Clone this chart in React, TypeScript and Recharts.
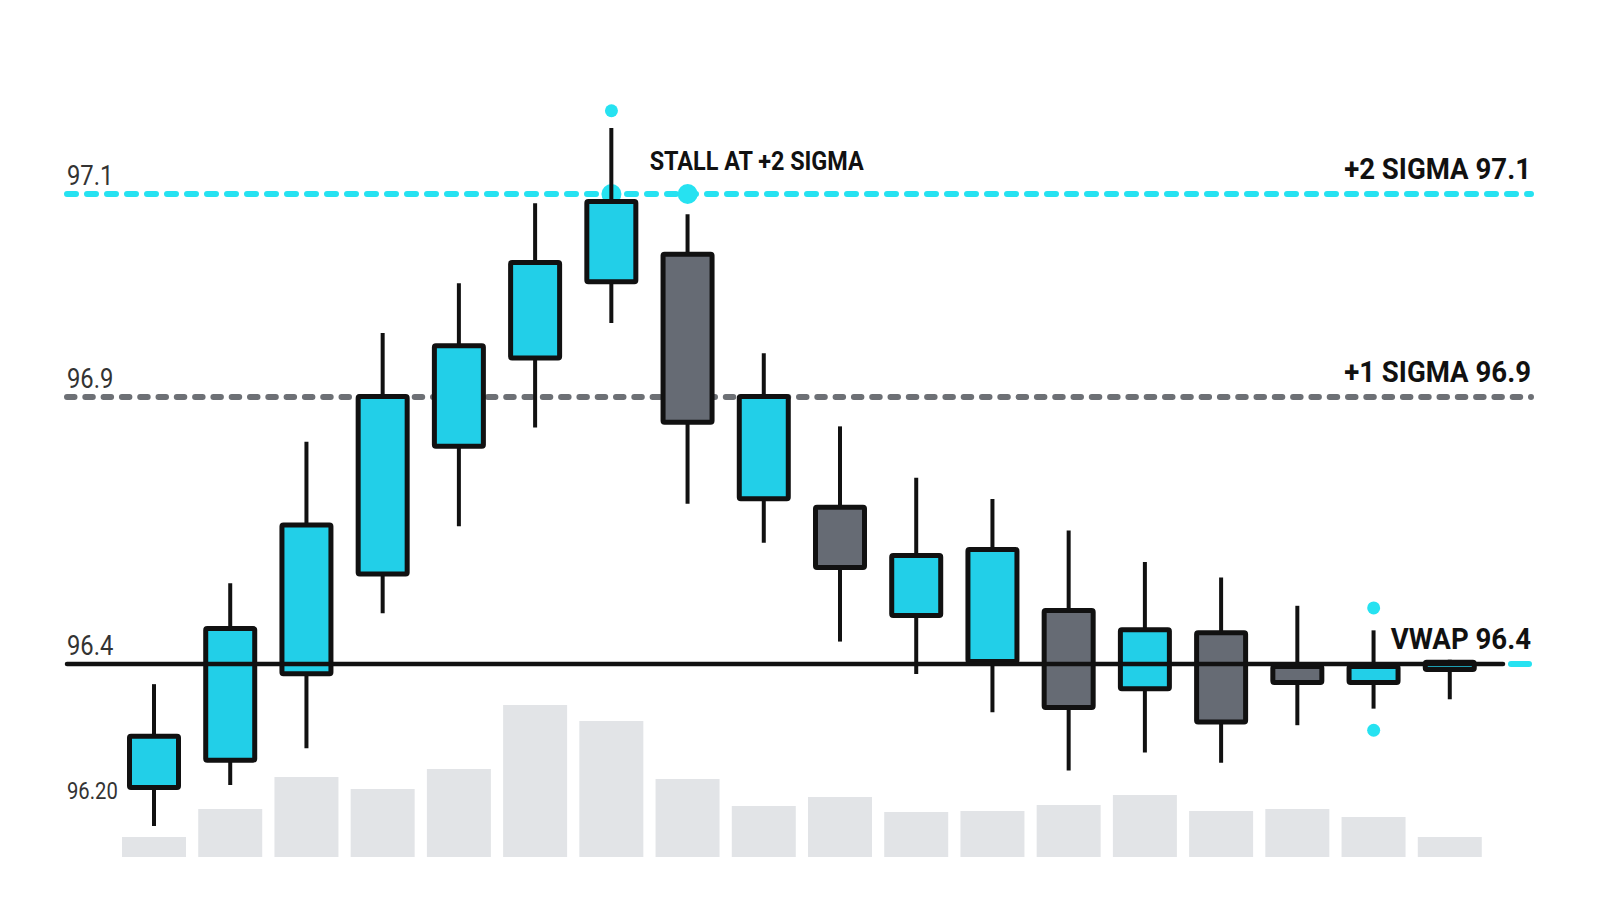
import React from "react";
import {
    ComposedChart,
    Bar,
    XAxis,
    YAxis,
    ReferenceLine,
    ReferenceDot,
} from "recharts";

// one candle per slot
const slots = ["1", "2", "3", "4", "5", "6", "7", "8", "9", "10", "11", "12", "13", "14", "15", "16", "17", "18"];
const opens = [96.225, 96.263, 96.383, 96.564, 96.803, 96.936, 97.011, 97.043, 96.705, 96.698, 96.486, 96.4, 96.505, 96.362, 96.463, 96.4, 96.371, 96.389];
const highs = [96.372, 96.551, 96.816, 96.963, 97.012, 97.091, 97.165, 97.08, 96.943, 96.845, 96.749, 96.709, 96.65, 96.591, 96.562, 96.509, 96.463, 96.408];
const lows = [96.175, 96.232, 96.283, 96.495, 96.658, 96.843, 96.973, 96.7, 96.627, 96.442, 96.386, 96.333, 96.252, 96.277, 96.263, 96.315, 96.338, 96.351];
const closes = [96.303, 96.471, 96.665, 96.903, 96.953, 97.035, 97.095, 96.848, 96.903, 96.576, 96.608, 96.619, 96.336, 96.469, 96.316, 96.371, 96.4, 96.408];
const volumes = [10, 24, 40, 34, 44, 76, 68, 39, 25.5, 30, 22.5, 23, 26, 31, 23, 24, 20, 10];

// price levels
const tickPrices = [96.2, 96.4, 96.9, 97.1];
const tickLabels = ["96.20", "96.4", "96.9", "97.1"];
const vwap = 96.4;
const sigma1 = 96.9;
const sigma2 = 97.1;

// markers
const touchSlots = ["7", "8"];
const edgeSlots = ["7", "17", "17"];
const edgePrices = [97.182, 96.505, 96.308];

// the price axis is not linear: each band between levels has its own spacing
const axisKnots = [0, 144, 411, 614];
const toAxis = (p: number) => {
    const k = tickPrices;
    let i = 0;
    if (p > k[1]) i = 1;
    if (p > k[2]) i = 2;
    return axisKnots[i] + ((p - k[i]) / (k[i + 1] - k[i])) * (axisKnots[i + 1] - axisKnots[i]);
};

const rows = slots.map((slot, i) => ({
    slot,
    open: opens[i],
    high: highs[i],
    low: lows[i],
    close: closes[i],
    volume: volumes[i],
    openU: toAxis(opens[i]),
    highU: toAxis(highs[i]),
    lowU: toAxis(lows[i]),
    closeU: toAxis(closes[i]),
}));

const INK = "#111111";
const UP = "#22cfe8";
const DOWN = "#666b74";
const CYAN = "#26e2f1";
const GREY_LINE = "#6d7075";
const VOL = "#e2e4e7";
const FONT = "Roboto, 'Noto Sans', sans-serif";

// fake a condensed face by squeezing Roboto horizontally around the anchor
const Squeezed = ({ x, y, squeeze, anchor, children, ...rest }: any) => (
    <text
        transform={`translate(${x},${y}) scale(${squeeze},1)`}
        x={0}
        y={0}
        textAnchor={anchor}
        fontFamily={FONT}
        {...rest}
    >
        {children}
    </text>
);

const Candle = (props: any) => {
    const { x, y, width, height, payload } = props;
    if (x == null || y == null || !payload) return null;
    const top = Math.min(y, y + height);
    const bottom = Math.max(y, y + height);
    const span = payload.highU - payload.lowU;
    const toPx = (u: number) => (span === 0 ? top : top + ((payload.highU - u) / span) * (bottom - top));
    const oy = toPx(payload.openU);
    const cy = toPx(payload.closeU);
    const up = payload.close >= payload.open;
    const cx = x + width / 2;
    const b0 = Math.min(oy, cy);
    const b1 = Math.max(oy, cy);
    return (
        <g>
            <line x1={cx} x2={cx} y1={top} y2={bottom} stroke={INK} strokeWidth={4} />
            <rect
                x={x + 2.5}
                y={b0 + 2.5}
                width={width - 5}
                height={Math.max(b1 - b0 - 5, 1)}
                fill={up ? UP : DOWN}
                stroke={INK}
                strokeWidth={5}
                rx={1.5}
            />
        </g>
    );
};

// the lowest level is printed a size smaller than the others
const leftLabel = (text: string, small: boolean) => (props: any) => {
    const vb = props.viewBox || {};
    return (
        <Squeezed
            x={vb.x}
            y={vb.y - 9}
            squeeze={small ? 0.88 : 0.85}
            anchor="start"
            fontSize={small ? 23 : 28}
            fill="#333"
        >
            {text}
        </Squeezed>
    );
};

const rightLabel = (text: string) => (props: any) => {
    const vb = props.viewBox || {};
    return (
        <Squeezed
            x={vb.x + vb.width}
            y={vb.y - 15}
            squeeze={0.92}
            anchor="end"
            fontWeight={700}
            fontSize={30}
            fill={INK}
        >
            {text}
        </Squeezed>
    );
};

const stallLabel = (props: any) => {
    const vb = props.viewBox || {};
    const cx = vb.x + vb.width / 2;
    const cy = vb.y + vb.height / 2;
    return (
        <Squeezed x={cx - 38} y={cy - 24} squeeze={0.9} anchor="start" fontWeight={700} fontSize={26} fill={INK}>
            STALL AT +2 SIGMA
        </Squeezed>
    );
};

// black VWAP rule that stops short of the edge, with a cyan tick at the end
const VwapShape = (props: any) => {
    const { x1, x2, y1 } = props;
    const left = Math.min(x1, x2);
    const right = Math.max(x1, x2);
    return (
        <g>
            <line x1={left} x2={right - 28} y1={y1} y2={y1} stroke={INK} strokeWidth={4.5} strokeLinecap="round" />
            <line x1={right - 20} x2={right - 2} y1={y1} y2={y1} stroke={CYAN} strokeWidth={6} strokeLinecap="round" />
        </g>
    );
};

export default function App() {
    return (
        <div style={{ width: 1584, height: 898, background: "#fff" }}>
            <ComposedChart
                width={1584}
                height={898}
                data={rows}
                margin={{ top: 49, right: 61, bottom: 49, left: 59 }}
            >
                <XAxis xAxisId="price" dataKey="slot" hide padding={{ left: 49, right: 43 }} />
                <XAxis xAxisId="vol" dataKey="slot" hide padding={{ left: 49, right: 43 }} />
                <YAxis yAxisId="price" type="number" domain={[-49, 751]} hide allowDataOverflow />
                <YAxis yAxisId="vol" type="number" domain={[0, 400]} hide />

                <Bar
                    xAxisId="vol"
                    yAxisId="vol"
                    dataKey="volume"
                    fill={VOL}
                    barSize={64}
                    isAnimationActive={false}
                    zIndex={100}
                />

                {/* price tick labels sit just above their level */}
                {tickPrices.map((p, i) => (
                    <ReferenceLine
                        key={"tick" + i}
                        xAxisId="price"
                        yAxisId="price"
                        y={toAxis(p)}
                        stroke="none"
                        label={leftLabel(tickLabels[i], i === 0)}
                        zIndex={150}
                    />
                ))}

                <ReferenceLine
                    xAxisId="price"
                    yAxisId="price"
                    y={toAxis(sigma2)}
                    stroke={CYAN}
                    strokeWidth={6}
                    strokeDasharray="9 11"
                    strokeLinecap="round"
                    label={rightLabel("+2 SIGMA 97.1")}
                    zIndex={200}
                />
                <ReferenceLine
                    xAxisId="price"
                    yAxisId="price"
                    y={toAxis(sigma1)}
                    stroke={GREY_LINE}
                    strokeWidth={6}
                    strokeDasharray="7.5 10.8"
                    strokeLinecap="round"
                    label={rightLabel("+1 SIGMA 96.9")}
                    zIndex={200}
                />

                {touchSlots.map((s, i) => (
                    <ReferenceDot
                        key={"t" + i}
                        xAxisId="price"
                        yAxisId="price"
                        x={s}
                        y={toAxis(sigma2)}
                        r={10}
                        fill={CYAN}
                        stroke="none"
                        label={i === 1 ? stallLabel : undefined}
                        zIndex={250}
                    />
                ))}
                {edgeSlots.map((s, i) => (
                    <ReferenceDot
                        key={"e" + i}
                        xAxisId="price"
                        yAxisId="price"
                        x={s}
                        y={toAxis(edgePrices[i])}
                        r={6.5}
                        fill={CYAN}
                        stroke="none"
                        zIndex={250}
                    />
                ))}

                <Bar
                    xAxisId="price"
                    yAxisId="price"
                    dataKey={(d: any) => [d.lowU, d.highU]}
                    barSize={54}
                    shape={Candle}
                    isAnimationActive={false}
                    zIndex={300}
                />

                <ReferenceLine
                    xAxisId="price"
                    yAxisId="price"
                    y={toAxis(vwap)}
                    stroke={INK}
                    shape={VwapShape}
                    label={rightLabel("VWAP 96.4")}
                    zIndex={400}
                />
            </ComposedChart>
        </div>
    );
}
